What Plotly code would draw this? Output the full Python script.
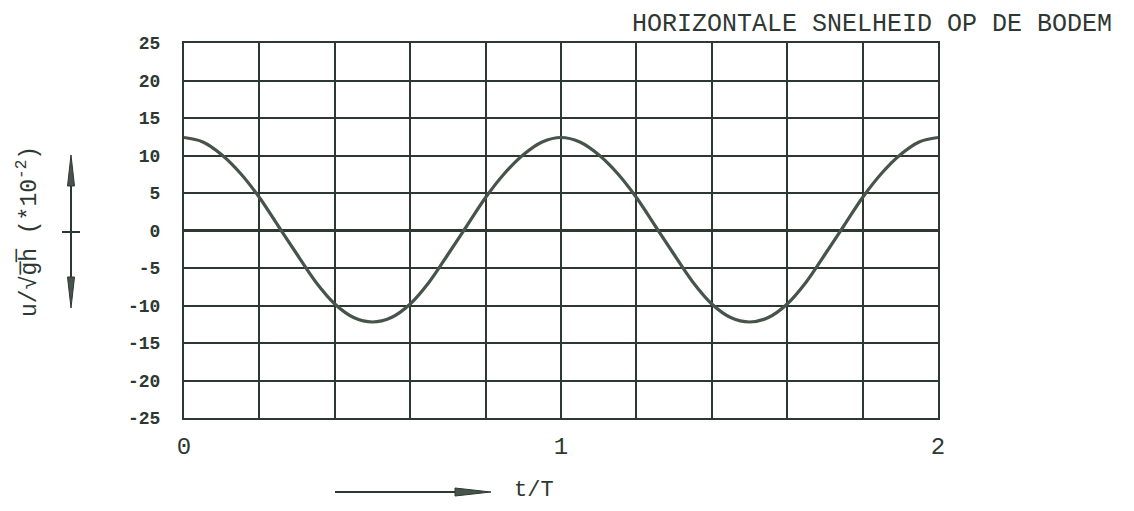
import plotly.graph_objects as go

# ---- data ----
t_over_T = [0.00, 0.05, 0.10, 0.15, 0.20, 0.25, 0.30, 0.35, 0.40, 0.45,
            0.50, 0.55, 0.60, 0.65, 0.70, 0.75, 0.80, 0.85, 0.90, 0.95,
            1.00, 1.05, 1.10, 1.15, 1.20, 1.25, 1.30, 1.35, 1.40, 1.45,
            1.50, 1.55, 1.60, 1.65, 1.70, 1.75, 1.80, 1.85, 1.90, 1.95, 2.00]
u_sqrt_gh = [12.4, 11.8, 10.1, 7.6, 4.4, 0.6, -3.2, -6.9, -9.8, -11.6,
             -12.2, -11.6, -9.8, -6.9, -3.2, 0.6, 4.4, 7.6, 10.1, 11.8,
             12.4, 11.8, 10.1, 7.6, 4.4, 0.6, -3.2, -6.9, -9.8, -11.6,
             -12.2, -11.6, -9.8, -6.9, -3.2, 0.6, 4.4, 7.6, 10.1, 11.8, 12.4]
x_ticks = [0, 1, 2]
x_tick_labels = ["0", "1", "2"]
y_ticks = [-25, -20, -15, -10, -5, 0, 5, 10, 15, 20, 25]
y_tick_labels = ["-25", "-20", "-15", "-10", "-5", "0", "5", "10", "15", "20", "25"]
title_text = "HORIZONTALE SNELHEID OP DE BODEM"
x_label = "t/T"
y_label = "u/√g̅h̅ (*10<sup>-2</sup>)"

INK = "#2e3832"
CURVE = "#46544b"
FONT = "Liberation Mono, DejaVu Sans Mono, monospace"

# page body margin offsets the figure by 8 px
OFF = 8
W, H = 1134 - 2 * OFF, 511 - 2 * OFF
# plot area in screen pixels
L, R, T, B = 184, 938, 43, 418


def px(x):
    return (x - L) / (R - L)


def py(y):
    return (B - y) / (B - T)


fig = go.Figure()
fig.add_trace(go.Scatter(x=t_over_T, y=u_sqrt_gh, mode="lines",
                         line=dict(color=CURVE, width=3.2, shape="spline", smoothing=1.0),
                         showlegend=False, hoverinfo="skip"))

fig.update_layout(
    width=W, height=H,
    margin=dict(l=L - OFF, r=W - (R - OFF), t=T - OFF, b=H - (B - OFF), pad=0),
    paper_bgcolor="white", plot_bgcolor="white",
    xaxis=dict(range=[0, 2], tickvals=x_ticks, ticktext=x_tick_labels,
               showgrid=True, gridcolor=INK, gridwidth=2,
               minor=dict(dtick=0.2, showgrid=True, gridcolor=INK, gridwidth=2),
               zeroline=False, showline=True, linecolor=INK, linewidth=2, mirror=True,
               ticks="", ticklabelstandoff=5,
               tickfont=dict(family=FONT, size=24, color=INK)),
    yaxis=dict(range=[-25, 25], tickvals=y_ticks, ticktext=y_tick_labels,
               showgrid=True, gridcolor=INK, gridwidth=2,
               zeroline=True, zerolinecolor=INK, zerolinewidth=3,
               showline=True, linecolor=INK, linewidth=2, mirror=True,
               ticks="", ticklabelstandoff=18,
               tickfont=dict(family=FONT, size=18, color=INK, weight="bold")),
)

# title at top right
fig.add_annotation(text=title_text, xref="paper", yref="paper",
                   x=px(1114), y=py(25), xanchor="right", yanchor="middle",
                   showarrow=False, font=dict(family=FONT, size=25, color=INK))

# x-axis label with arrow
fig.add_annotation(text=x_label, xref="paper", yref="paper",
                   x=px(512), y=py(491), xanchor="left", yanchor="middle",
                   showarrow=False, font=dict(family=FONT, size=22, color=INK))
fig.add_shape(type="line", xref="paper", yref="paper",
              x0=px(335), x1=px(460), y0=py(492), y1=py(492),
              line=dict(color=INK, width=2))
fig.add_shape(type="path", xref="paper", yref="paper",
              path=f"M {px(455)},{py(488)} L {px(491)},{py(492)} L {px(455)},{py(496)} Z",
              fillcolor=CURVE, line=dict(color=INK, width=1))

# y-axis label (rotated)
fig.add_annotation(text=y_label, xref="paper", yref="paper",
                   x=px(28), y=py(232), xanchor="center", yanchor="middle",
                   textangle=-90, showarrow=False,
                   font=dict(family=FONT, size=23, color=INK))

# vertical double arrow with centre tick
fig.add_shape(type="line", xref="paper", yref="paper",
              x0=px(71), x1=px(71), y0=py(180), y1=py(285),
              line=dict(color=INK, width=2))
fig.add_shape(type="path", xref="paper", yref="paper",
              path=f"M {px(67.5)},{py(186)} L {px(71)},{py(155)} L {px(74.5)},{py(186)} Z",
              fillcolor=CURVE, line=dict(color=INK, width=1))
fig.add_shape(type="path", xref="paper", yref="paper",
              path=f"M {px(67.5)},{py(277)} L {px(71)},{py(308)} L {px(74.5)},{py(277)} Z",
              fillcolor=CURVE, line=dict(color=INK, width=1))
fig.add_shape(type="line", xref="paper", yref="paper",
              x0=px(62), x1=px(80), y0=py(232), y1=py(232),
              line=dict(color=INK, width=2))

fig.write_html("out.html")
